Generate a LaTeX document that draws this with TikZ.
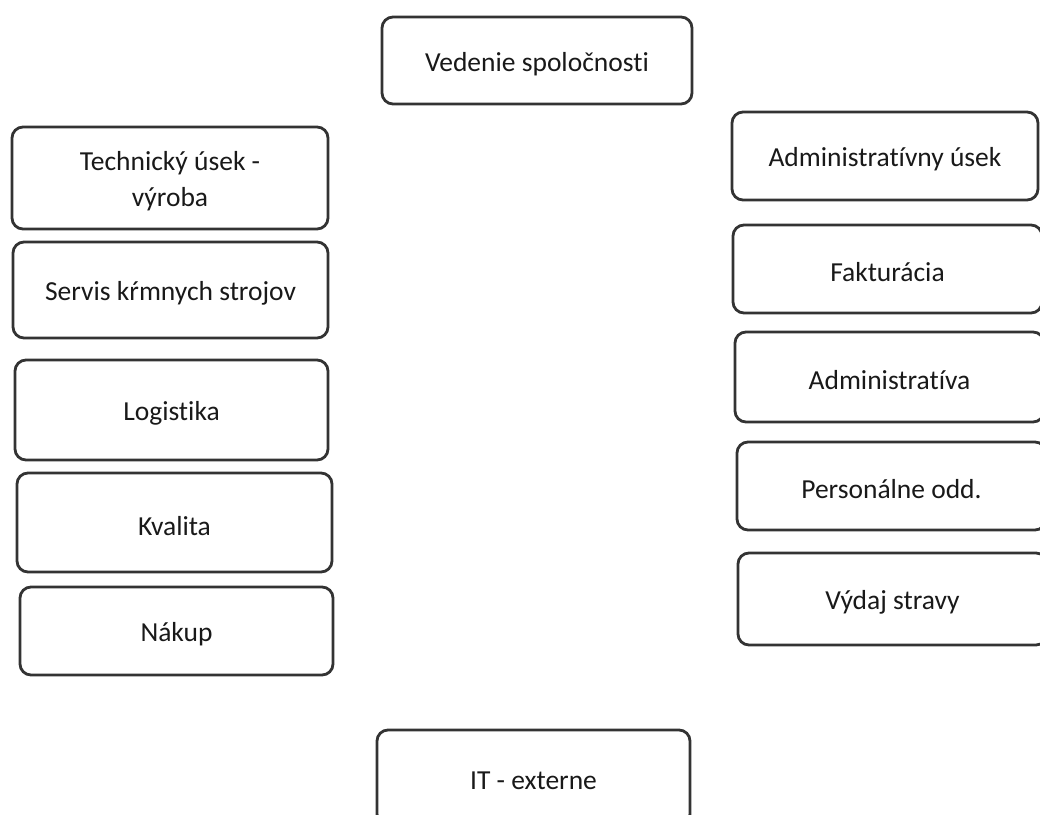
\documentclass[tikz,border=0pt]{standalone}
\usepackage{fontspec}
\setmainfont{Carlito}[Ligatures={NoCommon}]
\newcommand\orgbox[5]{%
  \node[unit, minimum width=#3, minimum height=#4] (#1) at (#2) {};
  \node[unittext] (#1-t) at ([yshift=-3.5pt]#1.center) {#5};}
\begin{document}
\begin{tikzpicture}[x=1pt,y=-1pt,
  unit/.style={draw=black!80, line width=2.8pt, rounded corners=11pt, fill=white, inner sep=0pt},
  unittext/.style={inner sep=0pt, align=center, font=\fontsize{27.5}{36}\selectfont, text=black!90},
  ]
\useasboundingbox[clip] (0,0) rectangle (1040,814);
\fill[white] (0,0) rectangle (1040,814);
\orgbox{ved}{537,60.5}{310pt}{87pt}{Vedenie spoločnosti}
\orgbox{tech}{170,178}{316pt}{102pt}{Technický úsek -\\výroba}
\orgbox{serv}{170.5,290}{315pt}{96pt}{Servis kŕmnych strojov}
\orgbox{log}{171.5,410}{313pt}{100pt}{Logistika}
\orgbox{kval}{174.5,522.5}{315pt}{99pt}{Kvalita}
\orgbox{nak}{176.5,631}{313pt}{88pt}{Nákup}
\orgbox{adm}{885,156}{306pt}{88pt}{Administratívny úsek}
\orgbox{fak}{887.5,269}{309pt}{88pt}{Fakturácia}
\orgbox{admv}{889.5,377}{309pt}{90pt}{Administratíva}
\orgbox{pers}{891.5,486}{309pt}{88pt}{Personálne odd.}
\orgbox{vyd}{892.5,599}{309pt}{92pt}{Výdaj stravy}
\orgbox{it}{533.5,777.5}{313pt}{95pt}{IT - externe}
\end{tikzpicture}
\end{document}
